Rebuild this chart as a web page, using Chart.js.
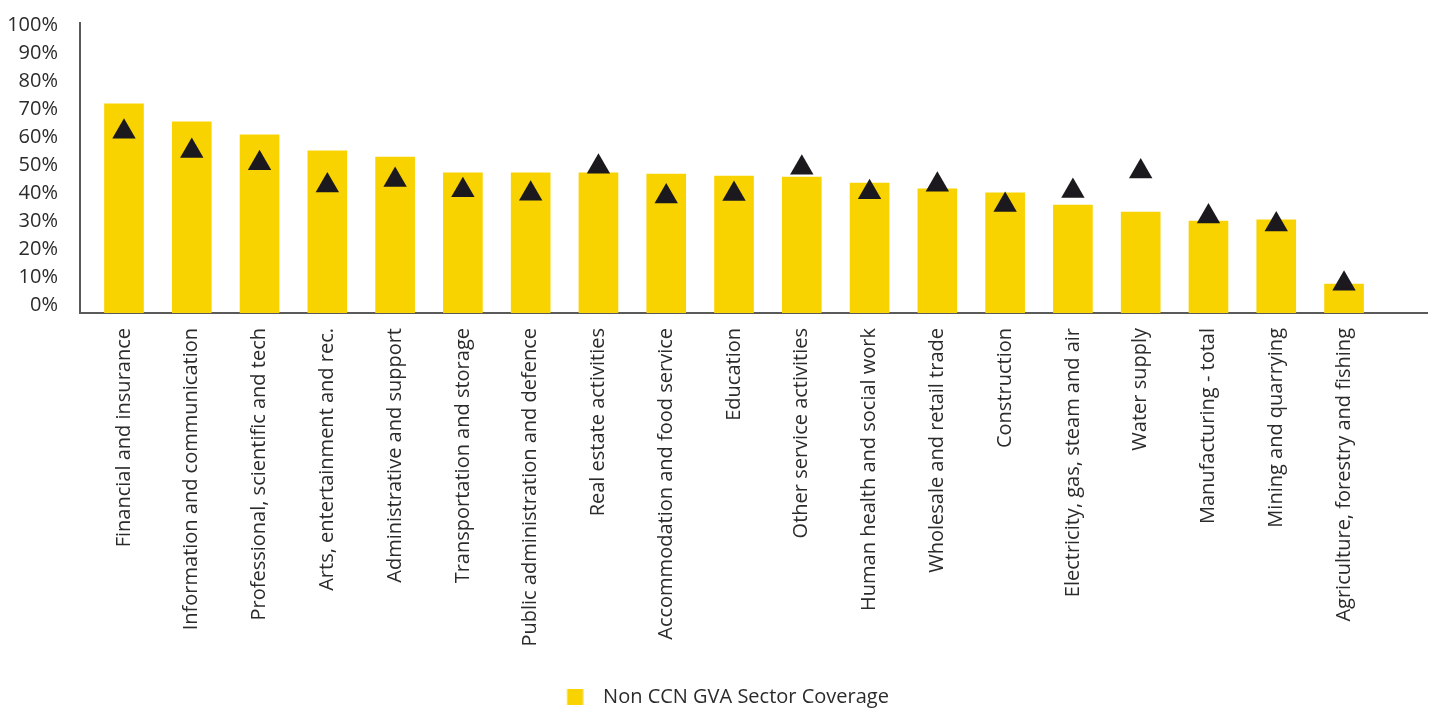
<!DOCTYPE html>
<html>
<head>
<meta charset="utf-8">
<title>GVA sector coverage</title>
<script src="https://cdn.jsdelivr.net/npm/chart.js@4.4.1/dist/chart.umd.min.js"></script>
<style>
  html, body { margin: 0; padding: 0; background: #ffffff; }
  #wrap { width: 1433px; height: 710px; }
</style>
</head>
<body>
<div id="wrap"><canvas id="chart" width="1433" height="710"></canvas></div>
<script>
// Sectors, in chart order
const sectors = [
  'Financial and insurance',
  'Information and communication',
  'Professional, scientific and tech',
  'Arts, entertainment and rec.',
  'Administrative and support',
  'Transportation and storage',
  'Public administration and defence',
  'Real estate activities',
  'Accommodation and food service',
  'Education',
  'Other service activities',
  'Human health and social work',
  'Wholesale and retail trade',
  'Construction',
  'Electricity, gas, steam and air',
  'Water supply',
  'Manufacturing - total',
  'Mining and quarrying',
  'Agriculture, forestry and fishing'
];

// Non CCN GVA sector coverage (%), yellow bars
const coverage = [72.1, 65.9, 61.4, 55.9, 53.8, 48.3, 48.3, 48.3, 47.9, 47.2,
                  46.9, 44.8, 42.8, 41.4, 37.2, 34.8, 31.7, 32.1, 10.0];

// Comparison series (%), black triangle markers
const comparison = [62.5, 55.9, 51.6, 44.0, 45.9, 42.3, 41.1, 50.4, 40.2, 41.0,
                    50.1, 41.6, 44.2, 37.2, 42.1, 48.8, 33.3, 30.5, 10.1];

// Percentage tick labels on the value axis
const percentTicks = [0, 10, 20, 30, 40, 50, 60, 70, 80, 90, 100];

const YELLOW = '#F9D300';
const MARKER = '#1b191d';
const AXIS = '#5a5a5a';
const TEXT = '#2b2b2b';
const FONT = "'Open Sans', 'DejaVu Sans', sans-serif";

// Legend swatch: a 16px square set towards the right of a 36px-wide image,
// which leaves a wider gap before the legend text
const swatch = document.createElement('canvas');
swatch.width = 36; swatch.height = 16;
const sctx = swatch.getContext('2d');
sctx.fillStyle = YELLOW;
sctx.fillRect(19.5, 0, 16, 16);

const barPoints = coverage.map((v, i) => ({ x: i, y: v }));
const markerPoints = comparison.map((v, i) => ({ x: i, y: v }));

new Chart(document.getElementById('chart'), {
  type: 'bar',
  data: {
    datasets: [
      {
        type: 'line',
        label: 'CCN GVA Sector Coverage',
        data: markerPoints,
        showLine: false,
        pointStyle: 'triangle',
        pointRadius: 13.5,
        pointHoverRadius: 13.5,
        pointBorderWidth: 0,
        pointBackgroundColor: MARKER,
        borderColor: MARKER,
        order: 0,
        xAxisID: 'x',
        yAxisID: 'y'
      },
      {
        type: 'bar',
        label: 'Non CCN GVA Sector Coverage',
        data: barPoints,
        backgroundColor: YELLOW,
        borderWidth: 0,
        barThickness: 39,
        order: 1,
        xAxisID: 'x',
        yAxisID: 'y'
      }
    ]
  },
  options: {
    responsive: false,
    devicePixelRatio: 1,
    animation: false,
    events: [],
    layout: { autoPadding: false, padding: { left: 0, right: 6, top: 23, bottom: -7 } },
    scales: {
      x: {
        type: 'linear',
        position: 'bottom',
        offset: false,
        min: -0.649,
        max: 19.224,
        grid: { display: false, drawTicks: false },
        border: { display: true, color: AXIS, width: 2 },
        afterBuildTicks: (scale) => {
          scale.ticks = sectors.map((_, i) => ({ value: i }));
        },
        afterFit: (scale) => {
          scale.height = 364;
          scale.paddingLeft = 0;
          scale.paddingRight = 0;
        },
        ticks: {
          autoSkip: false,
          minRotation: 90,
          maxRotation: 90,
          padding: 15,
          color: TEXT,
          font: { family: FONT, size: 20 },
          callback: (value) => sectors[value]
        }
      },
      // value scale for the marks (hidden)
      y: {
        type: 'linear',
        position: 'left',
        display: false,
        min: 0,
        max: 100
      },
      // labelled percentage axis
      pct: {
        type: 'linear',
        position: 'left',
        min: -2.857,
        max: 100.714,
        grid: { display: false, drawTicks: false },
        border: { display: true, color: AXIS, width: 2 },
        afterBuildTicks: (scale) => {
          scale.ticks = percentTicks.map(v => ({ value: v }));
        },
        afterFit: (scale) => {
          scale.width = 80;
          scale.paddingTop = 0;
          scale.paddingBottom = 0;
        },
        ticks: {
          padding: 22,
          color: TEXT,
          font: { family: FONT, size: 20 },
          callback: (value) => value + '%'
        }
      }
    },
    plugins: {
      tooltip: { enabled: false },
      legend: {
        position: 'bottom',
        labels: {
          filter: (item) => item.datasetIndex === 1,
          usePointStyle: true,
          pointStyle: swatch,
          pointStyleWidth: 55,
          padding: 10,
          color: TEXT,
          font: { family: FONT, size: 20 }
        }
      }
    }
  }
});
</script>
</body>
</html>
